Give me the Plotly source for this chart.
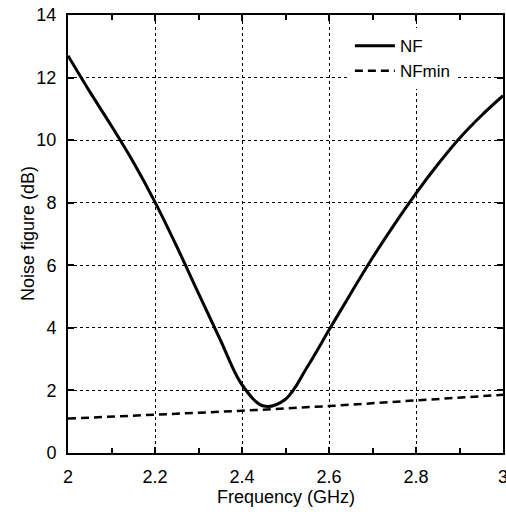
import plotly.graph_objects as go

# noise figure vs frequency
freq_nf = [2.0, 2.05, 2.1, 2.15, 2.2, 2.25, 2.3, 2.35, 2.4, 2.45, 2.5,
           2.55, 2.6, 2.65, 2.7, 2.75, 2.8, 2.85, 2.9, 2.95, 3.0]
nf = [12.70, 11.55, 10.45, 9.30, 8.02, 6.60, 5.10, 3.62, 2.18, 1.50, 1.72,
      2.75, 3.93, 5.10, 6.24, 7.30, 8.30, 9.22, 10.06, 10.78, 11.42]

freq_min = [2.0, 2.2, 2.4, 2.6, 2.8, 3.0]
nf_min = [1.10, 1.22, 1.35, 1.50, 1.67, 1.86]

font = "Liberation Sans, Arial, sans-serif"

fig = go.Figure()
fig.add_trace(go.Scatter(x=freq_nf, y=nf, name="NF", mode="lines",
                         line=dict(color="black", width=3, shape="spline")))
fig.add_trace(go.Scatter(x=freq_min, y=nf_min, name="NFmin", mode="lines",
                         line=dict(color="black", width=2.5, dash="8px,5px")))

axis_common = dict(showline=True, linecolor="black", linewidth=2, mirror="ticks",
                   ticks="inside", ticklen=6, tickwidth=1.5, tickcolor="black",
                   showgrid=True, gridcolor="black", gridwidth=1, griddash="dot",
                   zeroline=False, tickfont=dict(size=18, color="black"),
                   ticklabelstandoff=6, automargin=False, ticklabeloverflow="allow")

fig.update_xaxes(range=[2, 3], tickvals=[2, 2.2, 2.4, 2.6, 2.8, 3],
                 ticktext=["2", "2.2", "2.4", "2.6", "2.8", "3"],
                 minor=dict(ticks="inside", dtick=0.1, tick0=2, ticklen=5,
                            tickcolor="black", showgrid=False),
                 **axis_common)
fig.update_yaxes(range=[0, 14], dtick=2, **axis_common)

# axis titles
fig.add_annotation(text="Frequency (GHz)", xref="paper", yref="paper", x=0.5, y=0,
                   xanchor="center", yanchor="middle", yshift=-44, showarrow=False,
                   font=dict(size=18, color="black"))
fig.add_annotation(text="Noise figure (dB)", xref="paper", yref="paper", x=0, y=0.5,
                   xanchor="center", yanchor="middle", xshift=-40, textangle=-90,
                   showarrow=False, font=dict(size=18, color="black"))

fig.update_layout(width=506, height=512, plot_bgcolor="white", paper_bgcolor="white",
                  font=dict(family=font, color="black"),
                  margin=dict(l=68, r=3, t=15, b=59),
                  legend=dict(x=0.648, y=0.97, xanchor="left", yanchor="top",
                              bgcolor="white", borderwidth=0, itemwidth=40,
                              font=dict(size=17, color="black"), tracegroupgap=0))

# drop the browser's default body margin so the 506x512 figure fits the window
fig.write_html("out.html", config={"displayModeBar": False},
               post_script="document.body.style.margin='0';")
